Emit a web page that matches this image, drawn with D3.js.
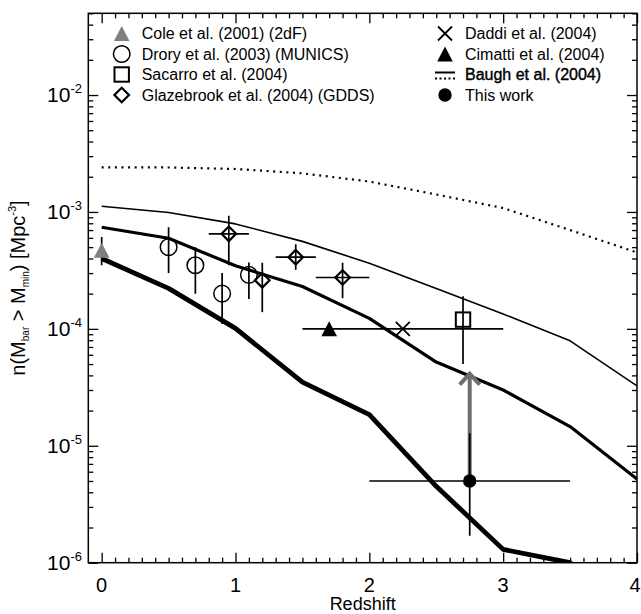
<!DOCTYPE html>
<html><head><meta charset="utf-8">
<script src="https://cdn.jsdelivr.net/npm/d3@7"></script>
<style>
body{margin:0;background:#fff;}
text{font-family:"Liberation Sans",Arial,Helvetica,sans-serif;fill:#000;}
</style></head>
<body><svg id="c" width="641" height="614"></svg>
<script>
// ---- data ----
const zModel = [0, 0.5, 1, 1.5, 2, 2.5, 3, 3.5, 4];
const baughDotted = [2.41e-3, 2.4e-3, 2.33e-3, 2.14e-3, 1.82e-3, 1.41e-3, 1.08e-3, 7.0e-4, 4.5e-4];
const baughThin   = [1.12e-3, 9.9e-4, 7.9e-4, 5.6e-4, 3.64e-4, 2.21e-4, 1.34e-4, 7.9e-5, 3.25e-5];
const baughMedium = [7.4e-4, 5.96e-4, 3.46e-4, 2.3e-4, 1.23e-4, 5.2e-5, 3.0e-5, 1.46e-5, 5.2e-6];
const baughThick  = [4.0e-4, 2.22e-4, 1.01e-4, 3.5e-5, 1.85e-5, 4.5e-6, 1.3e-6, 1.0e-6, 3.0e-7];

const coleZ = [0], coleN = [4.7e-4], coleLo = [3.5e-4], coleHi = [6.1e-4];
const droryZ = [0.5, 0.7, 0.9, 1.1];
const droryN = [5.0e-4, 3.5e-4, 2.0e-4, 2.9e-4];
const droryLo = [3.0e-4, 2.0e-4, 1.1e-4, 1.8e-4];
const droryHi = [7.4e-4, 5.0e-4, 3.0e-4, 3.7e-4];
const glazZ = [0.95, 1.2, 1.45, 1.8];
const glazN = [6.5e-4, 2.6e-4, 4.1e-4, 2.75e-4];
const glazLo = [3.5e-4, 1.39e-4, 3.2e-4, 1.83e-4];
const glazHi = [9.3e-4, 3.68e-4, 5.3e-4, 3.68e-4];
const glazZLo = [0.8, 1.2, 1.3, 1.6];
const glazZHi = [1.1, 1.2, 1.6, 2.0];
const sacZ = [2.7], sacN = [1.2e-4], sacLo = [5.0e-5], sacHi = [1.9e-4];
const daddiZ = [2.25], daddiN = [1.0e-4], daddiZLo = [1.5], daddiZHi = [3.0];
const cimZ = [1.7], cimN = [1.0e-4];
const thisZ = [2.75], thisN = [5.0e-6], thisLo = [1.7e-6], thisHi = [1.28e-5];
const thisZLo = [2.0], thisZHi = [3.5], thisArrowTo = [4.3e-5];

const xMajor = [0, 1, 2, 3, 4];
const yMajorExp = [-6, -5, -4, -3, -2];
const legendLeft = ["Cole et al. (2001) (2dF)", "Drory et al. (2003) (MUNICS)", "Sacarro et al. (2004)", "Glazebrook et al. (2004) (GDDS)"];
const legendRight = ["Daddi et al. (2004)", "Cimatti et al. (2004)", "Baugh et al. (2004)", "This work"];

// ---- layout ----
const L = 88.3, R = 637, T = 13.3, B = 562.7;
const x = d3.scaleLinear([-0.1, 4], [L, R]);
const y = d3.scaleLog([1e-6, 0.05], [B, T]);
const svg = d3.select("#c");

svg.append("defs").append("clipPath").attr("id", "clip")
  .append("rect").attr("x", L).attr("y", T).attr("width", R - L).attr("height", B - T);

// ---- axes ----
const xMinor = d3.range(0, 41).map(i => i / 10).filter(v => !xMajor.includes(v) && v < 4);
const yMinor = [];
for (let e = -6; e <= -2; e++) for (let m = 2; m <= 9; m++) { const v = m * Math.pow(10, e); if (v <= 0.05) yMinor.push(v); }
const yMajor = yMajorExp.map(e => Math.pow(10, e));

function ax(gen, tr) {
  const g = svg.append("g").attr("transform", tr).call(gen);
  g.selectAll("text").remove();
  g.select(".domain").remove();
  g.selectAll("line").attr("stroke", "#000").attr("stroke-width", 1.3);
  return g;
}
ax(d3.axisBottom(x).tickValues(xMajor).tickSize(-10), `translate(0,${B})`);
ax(d3.axisBottom(x).tickValues(xMinor).tickSize(-5), `translate(0,${B})`);
ax(d3.axisTop(x).tickValues(xMajor).tickSize(-10), `translate(0,${T})`);
ax(d3.axisTop(x).tickValues(xMinor).tickSize(-5), `translate(0,${T})`);
ax(d3.axisLeft(y).tickValues(yMajor).tickSize(-10), `translate(${L},0)`);
ax(d3.axisLeft(y).tickValues(yMinor).tickSize(-5), `translate(${L},0)`);
ax(d3.axisRight(y).tickValues(yMajor).tickSize(-10), `translate(${R},0)`);
ax(d3.axisRight(y).tickValues(yMinor).tickSize(-5), `translate(${R},0)`);

svg.append("rect").attr("x", L).attr("y", T).attr("width", R - L).attr("height", B - T)
  .attr("fill", "none").attr("stroke", "#000").attr("stroke-width", 1.5);

// tick labels
svg.selectAll(".xl").data(xMajor).enter().append("text")
  .attr("x", d => x(d) + (d === 4 ? -2 : 0)).attr("y", B + 29).attr("text-anchor", "middle")
  .attr("font-size", 20).text(d => d);
yMajorExp.forEach(e => {
  const t = svg.append("text").attr("x", 82).attr("y", y(Math.pow(10, e)) + 7)
    .attr("text-anchor", "end").attr("font-size", 21);
  t.append("tspan").text("10");
  t.append("tspan").attr("font-size", 13).attr("dy", -9).text(String(e));
});

// axis titles
svg.append("text").attr("x", (L + R) / 2).attr("y", 610).attr("text-anchor", "middle")
  .attr("font-size", 18).text("Redshift");
const yt = svg.append("text").attr("transform", `translate(25,${(T + B) / 2}) rotate(-90)`)
  .attr("text-anchor", "middle").attr("font-size", 20);
yt.append("tspan").text("n(M");
yt.append("tspan").attr("font-size", 10).attr("dy", 4).text("bar");
yt.append("tspan").attr("dy", -4).text(" > M");
yt.append("tspan").attr("font-size", 10).attr("dy", 4).text("min");
yt.append("tspan").attr("dy", -4).text(") [Mpc");
yt.append("tspan").attr("font-size", 11).attr("dy", -9).text("-3");
yt.append("tspan").attr("dy", 9).text("]");

// ---- model lines ----
const plot = svg.append("g").attr("clip-path", "url(#clip)");
const line = d3.line().x(d => x(d[0])).y(d => y(d[1]));
function mline(vals, w, dash) {
  const p = plot.append("path").datum(zModel.map((z, i) => [z, vals[i]]))
    .attr("d", line).attr("fill", "none").attr("stroke", "#000").attr("stroke-width", w)
    .attr("stroke-linejoin", "round");
  if (dash) p.attr("stroke-dasharray", dash);
}
mline(baughDotted, 2.2, "2,4.6");
mline(baughThin, 1.6);
mline(baughMedium, 3.2);
mline(baughThick, 4.8);

// ---- markers ----
function marker(g, type, cx, cy) {
  if (type === "tri" || type === "triGray") {
    g.append("path").attr("d", `M${cx},${cy - 7.5}L${cx - 7.8},${cy + 7.5}L${cx + 7.8},${cy + 7.5}Z`)
      .attr("fill", type === "tri" ? "#000" : "#808080");
  } else if (type === "circle") {
    g.append("circle").attr("cx", cx).attr("cy", cy).attr("r", 8.3)
      .attr("fill", "none").attr("stroke", "#000").attr("stroke-width", 1.5);
  } else if (type === "square") {
    g.append("rect").attr("x", cx - 7.2).attr("y", cy - 7.2).attr("width", 14.4).attr("height", 14.4)
      .attr("fill", "none").attr("stroke", "#000").attr("stroke-width", 2);
  } else if (type === "diamond") {
    g.append("path").attr("d", `M${cx},${cy - 7.3}L${cx + 7.3},${cy}L${cx},${cy + 7.3}L${cx - 7.3},${cy}Z`)
      .attr("fill", "none").attr("stroke", "#000").attr("stroke-width", 2.2);
  } else if (type === "x") {
    g.append("path").attr("d", `M${cx - 7},${cy - 7}L${cx + 7},${cy + 7}M${cx - 7},${cy + 7}L${cx + 7},${cy - 7}`)
      .attr("stroke", "#000").attr("stroke-width", 1.8);
  } else if (type === "dot") {
    g.append("circle").attr("cx", cx).attr("cy", cy).attr("r", 6.7).attr("fill", "#000");
  }
}
function vbar(z, lo, hi) {
  plot.append("line").attr("x1", x(z)).attr("x2", x(z)).attr("y1", y(lo)).attr("y2", y(hi))
    .attr("stroke", "#000").attr("stroke-width", 1.7);
}
function hbar(n, zlo, zhi) {
  plot.append("line").attr("x1", x(zlo)).attr("x2", x(zhi)).attr("y1", y(n)).attr("y2", y(n))
    .attr("stroke", "#000").attr("stroke-width", 1.7);
}

// Cole
coleZ.forEach((z, i) => { vbar(z, coleLo[i], coleHi[i]); marker(plot, "triGray", x(z), y(coleN[i])); });
// Drory
droryZ.forEach((z, i) => { vbar(z, droryLo[i], droryHi[i]); marker(plot, "circle", x(z), y(droryN[i])); });
// Glazebrook
glazZ.forEach((z, i) => {
  vbar(z, glazLo[i], glazHi[i]);
  if (glazZHi[i] > glazZLo[i]) hbar(glazN[i], glazZLo[i], glazZHi[i]);
  marker(plot, "diamond", x(z), y(glazN[i]));
});
// Daddi
daddiZ.forEach((z, i) => { hbar(daddiN[i], daddiZLo[i], daddiZHi[i]); marker(plot, "x", x(z), y(daddiN[i])); });
// Cimatti
cimZ.forEach((z, i) => marker(plot, "tri", x(z), y(cimN[i])));
// Sacarro
sacZ.forEach((z, i) => { vbar(z, sacLo[i], sacHi[i]); marker(plot, "square", x(z), y(sacN[i])); });
// This work + arrow
thisZ.forEach((z, i) => {
  const ax0 = x(z), yTip = y(thisArrowTo[i]);
  plot.append("line").attr("x1", ax0).attr("x2", ax0).attr("y1", y(thisN[i])).attr("y2", yTip + 3)
    .attr("stroke", "#6e6e6e").attr("stroke-width", 4);
  plot.append("path").attr("d", `M${ax0 - 10},${yTip + 13}L${ax0},${yTip + 2}L${ax0 + 10},${yTip + 13}`)
    .attr("fill", "none").attr("stroke", "#6e6e6e").attr("stroke-width", 4);
  vbar(z, thisLo[i], thisHi[i]);
  hbar(thisN[i], thisZLo[i], thisZHi[i]);
  marker(plot, "dot", ax0, y(thisN[i]));
});

// ---- legend ----
const rows = [33.5, 54, 74.5, 95];
const leftTypes = ["triGray", "circle", "square", "diamond"];
const lg = svg.append("g");
legendLeft.forEach((t, i) => {
  marker(lg, leftTypes[i], 121.7, rows[i]);
  lg.append("text").attr("x", 141.7).attr("y", rows[i] + 5.8).attr("font-size", 16).text(t);
});
const rightTypes = ["x", "tri", "baugh", "dot"];
legendRight.forEach((t, i) => {
  const cx = 445;
  if (rightTypes[i] === "baugh") {
    lg.append("line").attr("x1", cx - 10).attr("x2", cx + 10).attr("y1", rows[i] - 2).attr("y2", rows[i] - 2)
      .attr("stroke", "#000").attr("stroke-width", 2);
    lg.append("line").attr("x1", cx - 10).attr("x2", cx + 10).attr("y1", rows[i] + 4).attr("y2", rows[i] + 4)
      .attr("stroke", "#000").attr("stroke-width", 2).attr("stroke-dasharray", "2,2.5");
  } else {
    marker(lg, rightTypes[i], cx, rows[i]);
  }
  const tx = lg.append("text").attr("x", 465).attr("y", rows[i] + 5.8).attr("font-size", 16).text(t);
  if (rightTypes[i] === "baugh") tx.attr("stroke", "#000").attr("stroke-width", 0.4);
});
</script></body></html>
